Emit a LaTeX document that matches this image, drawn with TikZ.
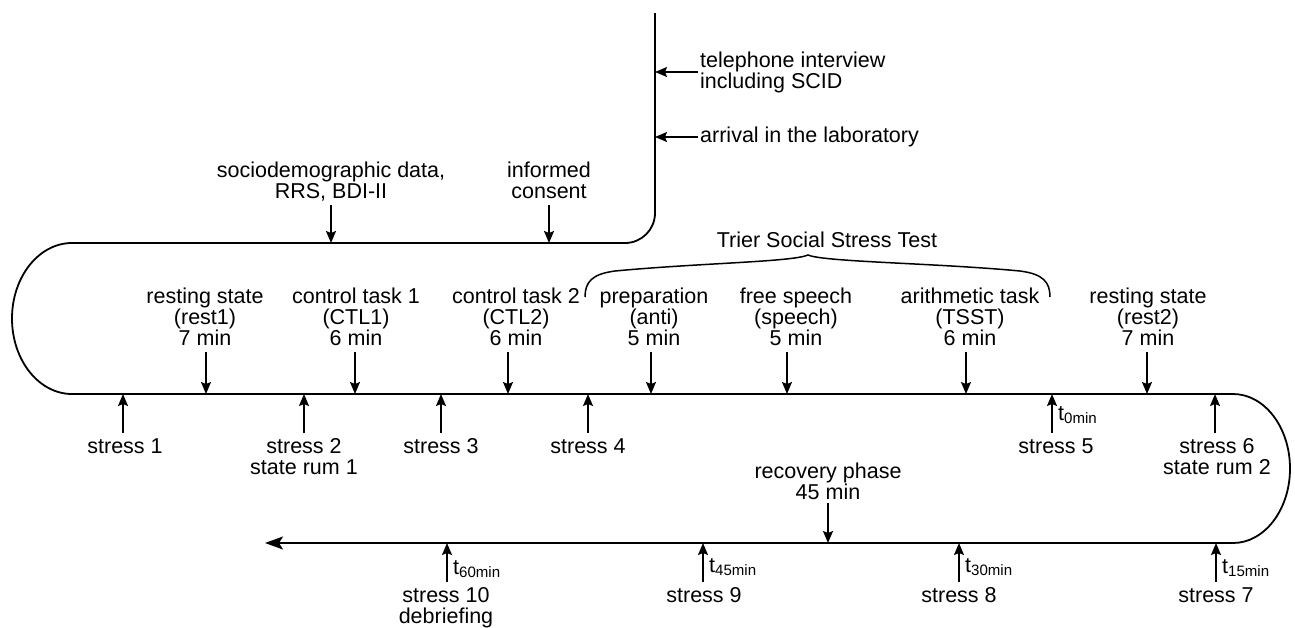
\documentclass[tikz,border=0pt]{standalone}
\usepackage{fontspec}
\setmainfont{Liberation Sans}
\usetikzlibrary{arrows.meta}

\begin{document}
\begin{tikzpicture}[x=1pt,y=-1pt,
  lbl/.style={font=\fontsize{21.5}{21}\selectfont, text=black},
  abv/.style={lbl, align=center, anchor=south, text depth=0pt, inner xsep=0pt, inner ysep=6pt},
  blw/.style={lbl, align=center, anchor=north, inner xsep=0pt, inner ysep=5pt},
  sideL/.style={lbl, align=left, anchor=west, inner sep=2pt},
  tlbl/.style={lbl, anchor=base west, inner sep=0pt},
  timeline/.style={line width=1.8pt, line join=round},
  pointer/.style={line width=1.5pt, -{Stealth[length=12pt,width=10pt,inset=2pt]}},
  bracepath/.style={line width=1.5pt}
]
\useasboundingbox (0,0) rectangle (1295,627);

% the time line: interview -> laboratory -> session -> recovery
\draw[timeline, -{Stealth[length=18pt,width=13pt,inset=4pt]}]
  (655,13) -- (655,213) .. controls (655,229.6) and (641.6,243) .. (625,243)
  -- (72,243) arc[start angle=90, end angle=270, x radius=60pt, y radius=75.5pt]
  -- (1233,394) arc[start angle=90, end angle=-90, x radius=57pt, y radius=74.5pt]
  -- (265,543);

% points on the time line
\coordinate (pTel) at (655,72);
\coordinate (pArr) at (655,137);
\coordinate (pSoc) at (331,243);
\coordinate (pCon) at (549,243);
\coordinate (pR1) at (206,394);
\coordinate (pC1) at (355,394);
\coordinate (pC2) at (508,394);
\coordinate (pPrep) at (651,394);
\coordinate (pFree) at (787,394);
\coordinate (pArith) at (966,394);
\coordinate (pR2) at (1147,394);
\coordinate (pS1) at (123,394);
\coordinate (pS2) at (304,394);
\coordinate (pS3) at (441,394);
\coordinate (pS4) at (588,394);
\coordinate (pS5) at (1052,394);
\coordinate (pS6) at (1215,394);
\coordinate (pS7) at (1216,543);
\coordinate (pS8) at (959,543);
\coordinate (pS9) at (703,543);
\coordinate (pS10) at (447,543);
\coordinate (pRec) at (828,543);

% before the session
\node[sideL] (tel) at (698,72) {telephone interview\\including SCID};
\node[sideL] (arr) at (698,137) {arrival in the laboratory};
\draw[pointer] (tel.west) -- (pTel);
\draw[pointer] (arr.west) -- (pArr);

\node[abv] (soc) at (331,205) {sociodemographic data,\\RRS, BDI-II};
\node[abv] (con) at (549,205) {informed\\consent};
\draw[pointer] (soc.south -| pSoc) -- (pSoc);
\draw[pointer] (con.south -| pCon) -- (pCon);

% session phases
\node[abv] (r1) at (205,352) {resting state\\(rest1)\\7 min};
\node[abv] (c1) at (356,352) {control task 1\\(CTL1)\\6 min};
\node[abv] (c2) at (516,352) {control task 2\\(CTL2)\\6 min};
\node[abv] (prep) at (654,352) {preparation\\(anti)\\5 min};
\node[abv] (free) at (796,352) {free speech\\(speech)\\5 min};
\node[abv] (arith) at (970,352) {arithmetic task\\(TSST)\\6 min};
\node[abv] (r2) at (1148,352) {resting state\\(rest2)\\7 min};
\foreach \n/\p in {r1/pR1, c1/pC1, c2/pC2, prep/pPrep, free/pFree, arith/pArith, r2/pR2}
  \draw[pointer] (\n.south -| \p) -- (\p);

% Trier Social Stress Test brace
\node[lbl] (tsst) at (827,240) {Trier Social Stress Test};
\coordinate (bL) at (585,297);
\coordinate (bR) at (1050,297);
\draw[bracepath] (bL) .. controls (585,282) and (592,274) .. (615,271)
  .. controls (700,263) and (792,262) .. (808,255)
  .. controls (824,262) and (935,263) .. (1020,271)
  .. controls (1043,274) and (1050,282) .. (bR);

% stress ratings during the session
\node[blw] (s1) at (125,433) {stress 1};
\node[blw] (s2) at (304,433) {stress 2\\state rum 1};
\node[blw] (s3) at (441,433) {stress 3};
\node[blw] (s4) at (588,433) {stress 4};
\node[blw] (s5) at (1056,433) {stress 5};
\node[blw] (s6) at (1217,433) {stress 6\\state rum 2};
\foreach \n/\p in {s1/pS1, s2/pS2, s3/pS3, s4/pS4, s5/pS5, s6/pS6}
  \draw[pointer] (\n.north -| \p) -- (\p);
\node[tlbl] (t0) at (1058,420) {t\textsubscript{0min}};

% recovery phase
\node[abv, inner ysep=3pt] (rec) at (828,503) {recovery phase\\45 min};
\draw[pointer] (rec.south -| pRec) -- (pRec);

\node[blw] (s7) at (1216,582) {stress 7};
\node[blw] (s8) at (959,582) {stress 8};
\node[blw] (s9) at (704,582) {stress 9};
\node[blw] (s10) at (446,582) {stress 10\\debriefing};
\foreach \n/\p in {s7/pS7, s8/pS8, s9/pS9, s10/pS10}
  \draw[pointer] (\n.north -| \p) -- (\p);
\node[tlbl] (t15) at (1222,573) {t\textsubscript{15min}};
\node[tlbl] (t30) at (965,572) {t\textsubscript{30min}};
\node[tlbl] (t45) at (709,572) {t\textsubscript{45min}};
\node[tlbl] (t60) at (453,574) {t\textsubscript{60min}};
\end{tikzpicture}
\end{document}
